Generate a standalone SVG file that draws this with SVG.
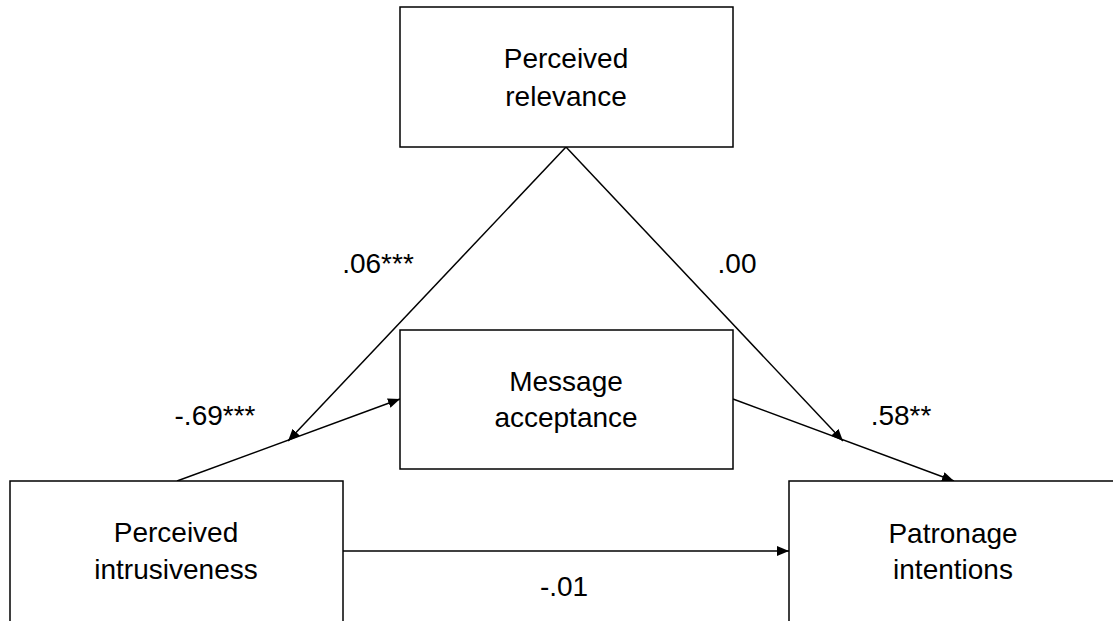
<svg xmlns="http://www.w3.org/2000/svg" width="1113" height="621" viewBox="0 0 1113 621">
<style>
.box{fill:#fff;stroke:#000;stroke-width:1.5}
.t{font-family:"Liberation Sans",Arial,sans-serif;font-size:28px;fill:#000;text-anchor:middle}
.c{fill:none;stroke:#000;stroke-width:1.5}
</style>
<defs>
<marker id="ah" markerUnits="userSpaceOnUse" markerWidth="14" markerHeight="12" refX="12" refY="5" orient="auto">
<path d="M0,0 L12,5 L0,10 Z" fill="#000"/>
</marker>
</defs>
<rect width="1113" height="621" fill="#fff"/>
<g id="connectors">
<path class="c" d="M566,147 L288,441" marker-end="url(#ah)"/>
<path class="c" d="M566,147 L843,441" marker-end="url(#ah)"/>
<path class="c" d="M177,481 L400,399" marker-end="url(#ah)"/>
<path class="c" d="M733,399 L954,481" marker-end="url(#ah)"/>
<path class="c" d="M343,551 L789,551" marker-end="url(#ah)"/>
<text class="t" x="378" y="273">.06***</text>
<text class="t" x="737" y="273">.00</text>
<text class="t" x="215" y="425">-.69***</text>
<text class="t" x="901" y="425">.58**</text>
<text class="t" x="564" y="596">-.01</text>
</g>
<g id="relevance">
<rect class="box" x="400" y="7" width="333" height="140"/>
<text class="t" x="566" y="68">Perceived</text>
<text class="t" x="566" y="106">relevance</text>
</g>
<g id="acceptance">
<rect class="box" x="400" y="330" width="333" height="139"/>
<text class="t" x="566" y="391">Message</text>
<text class="t" x="566" y="427">acceptance</text>
</g>
<g id="intrusiveness">
<rect class="box" x="10" y="481" width="333" height="160"/>
<text class="t" x="176" y="542">Perceived</text>
<text class="t" x="176" y="579">intrusiveness</text>
</g>
<g id="patronage">
<rect class="box" x="789" y="481" width="340" height="160"/>
<text class="t" x="953" y="543">Patronage</text>
<text class="t" x="953" y="579">intentions</text>
</g>
</svg>
